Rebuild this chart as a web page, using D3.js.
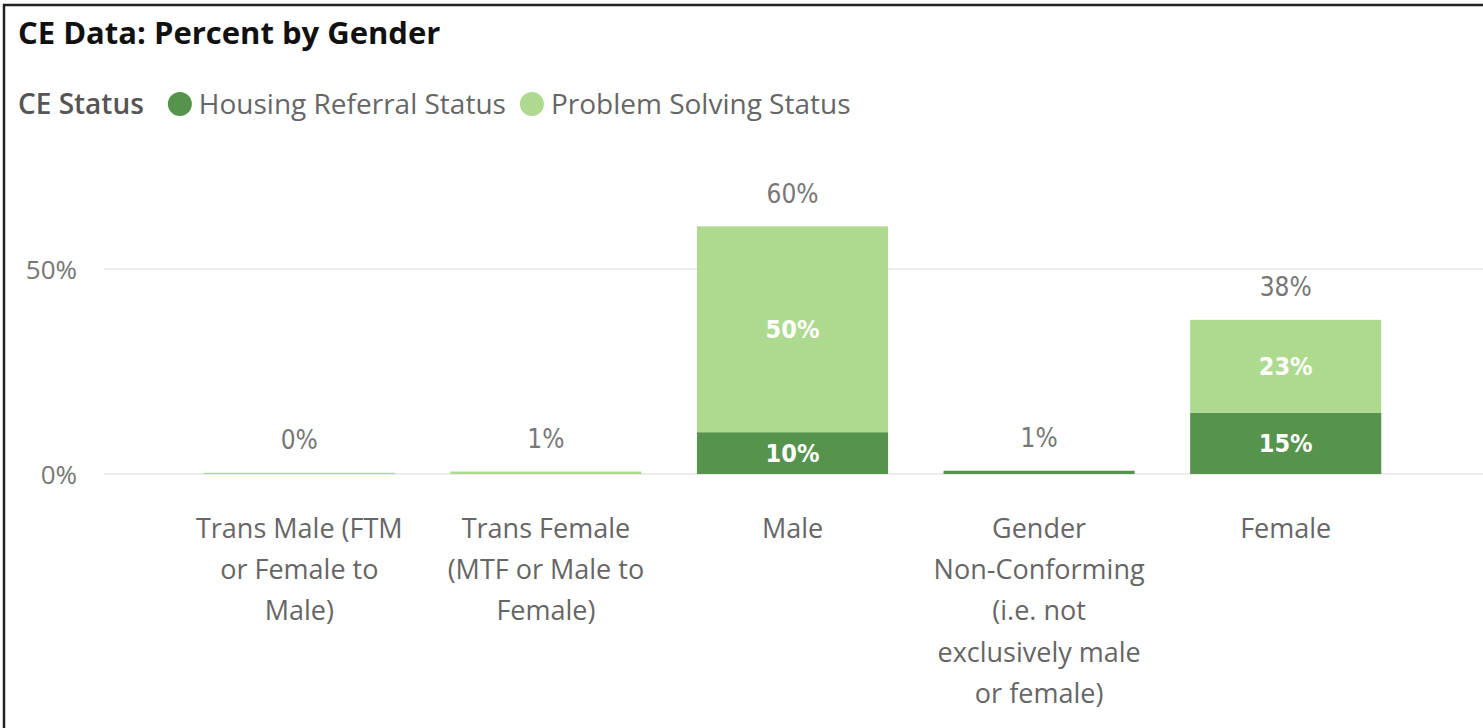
<!DOCTYPE html>
<html>
<head>
<meta charset="utf-8">
<script src="https://cdn.jsdelivr.net/npm/d3@7"></script>
<style>
  html, body { margin: 0; padding: 0; background: #fff; }
  svg { display: block; }
</style>
</head>
<body>
<svg id="chart" width="1483" height="728"></svg>
<script>
// ---- data ----
const categories = [
  "Trans Male (FTM or Female to Male)",
  "Trans Female (MTF or Male to Female)",
  "Male",
  "Gender Non-Conforming (i.e. not exclusively male or female)",
  "Female"
];
const seriesNames = ["Housing Referral Status", "Problem Solving Status"];
const housingReferral = [0.0, 0.0, 10.2, 0.8, 14.9];
const problemSolving  = [0.3, 0.6, 50.2, 0.0, 22.7];
const yTicks = [0, 50];
const titleText = "CE Data: Percent by Gender";
const legendTitle = "CE Status";

const colors = ["#56934D", "#ADDA8E"];
const uiFont = "'Segoe UI', 'Open Sans', 'Noto Sans', sans-serif";
const numFont = "'DejaVu Sans Condensed', 'Liberation Sans Narrow', 'Roboto', sans-serif";

const svg = d3.select("#chart");

// frame
svg.append("rect").attr("x", 4).attr("y", 5).attr("width", 1600).attr("height", 800)
  .attr("fill", "none").attr("stroke", "#222").attr("stroke-width", 2.5);

// title
svg.append("text").attr("x", 18).attr("y", 44).text(titleText)
  .attr("font-family", uiFont).attr("font-weight", 700).attr("font-size", 31).attr("fill", "#111");

// legend
const lg = svg.append("g").attr("font-family", uiFont).attr("font-size", 28);
const lt = lg.append("text").attr("x", 18).attr("y", 114).text(legendTitle)
  .attr("fill", "#555").attr("font-weight", 600);
let lx = 18 + lt.node().getComputedTextLength() + 24;
seriesNames.forEach((s, i) => {
  lg.append("circle").attr("cx", lx + 12).attr("cy", 104).attr("r", 12).attr("fill", colors[i]);
  const t = lg.append("text").attr("x", lx + 31).attr("y", 114).text(s).attr("fill", "#666");
  lx += 31 + t.node().getComputedTextLength() + 14;
});

// scales
const x = d3.scaleBand().domain(categories).range([176, 1409]).paddingInner(0.225).paddingOuter(0.1125);
const y = d3.scaleLinear().domain([0, 65]).range([474, 474 - 65 * 4.1]);

// gridlines + y axis
svg.append("g").selectAll("line").data(yTicks).join("line")
  .attr("x1", 104).attr("x2", 1483).attr("y1", d => y(d)).attr("y2", d => y(d))
  .attr("stroke", "#ececec").attr("stroke-width", 2);
const yAxis = d3.axisLeft(y).tickValues(yTicks).tickFormat(d => d + "%").tickSize(0).tickPadding(0);
const ga = svg.append("g").attr("transform", "translate(77,0)").call(yAxis);
ga.select(".domain").remove();
ga.selectAll("text").attr("font-family", uiFont).attr("font-size", 26).attr("fill", "#777")
  .attr("dy", "0.36em");

// stacked data
const rows = categories.map((c, i) => ({ cat: c, "Housing Referral Status": housingReferral[i], "Problem Solving Status": problemSolving[i] }));
const stack = d3.stack().keys(seriesNames)(rows);

const bars = svg.append("g");
stack.forEach((layer, li) => {
  bars.selectAll(null).data(layer).join("rect")
    .attr("x", d => x(d.data.cat))
    .attr("width", x.bandwidth())
    .attr("y", d => y(d[1]))
    .attr("height", d => Math.max(0, y(d[0]) - y(d[1])))
    .attr("fill", colors[li]);
  // inside labels
  bars.selectAll(null).data(layer.filter(d => y(d[0]) - y(d[1]) > 30)).join("text")
    .attr("x", d => x(d.data.cat) + x.bandwidth() / 2)
    .attr("y", d => (y(d[0]) + y(d[1])) / 2)
    .attr("dy", "0.36em").attr("text-anchor", "middle")
    .attr("font-family", numFont).attr("font-weight", 700).attr("font-size", 25).attr("fill", "#fff")
    .text(d => Math.round(d[1] - d[0]) + "%");
});

// totals
const totals = categories.map((c, i) => ({ cat: c, v: housingReferral[i] + problemSolving[i] }));
svg.append("g").selectAll("text").data(totals).join("text")
  .attr("x", d => x(d.cat) + x.bandwidth() / 2)
  .attr("y", d => y(d.v) - 33)
  .attr("dy", "0.36em").attr("text-anchor", "middle")
  .attr("font-family", numFont).attr("font-size", 26).attr("fill", "#777")
  .text(d => Math.round(d.v) + "%");

// x axis labels with wrapping
const xAxis = d3.axisBottom(x).tickSize(0).tickPadding(0);
const gx = svg.append("g").attr("transform", "translate(0,474)").call(xAxis);
gx.select(".domain").remove();
gx.selectAll("text").attr("font-family", uiFont).attr("font-size", 27).attr("fill", "#666")
  .each(function(d) {
    const el = d3.select(this);
    const words = d.split(" ");
    el.text(null).attr("y", 0).attr("dy", null);
    const maxW = 222;
    let lines = [], cur = [];
    const probe = el.append("tspan");
    words.forEach(w => {
      const test = cur.concat([w]).join(" ");
      probe.text(test);
      if (probe.node().getComputedTextLength() > maxW && cur.length) {
        lines.push(cur.join(" "));
        cur = [w];
      } else cur.push(w);
    });
    lines.push(cur.join(" "));
    probe.remove();
    lines.forEach((ln, i) => {
      el.append("tspan").attr("x", 0).attr("y", 64 + i * 41.2).text(ln);
    });
  });
</script>
</body>
</html>
